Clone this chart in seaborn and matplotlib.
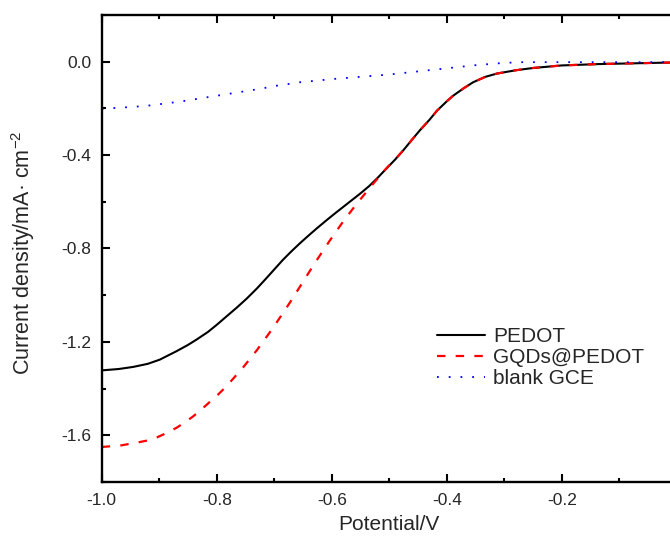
import matplotlib
matplotlib.use("Agg")
import matplotlib.pyplot as plt
from matplotlib.ticker import MultipleLocator, FuncFormatter
import seaborn as sns

# ---- data ----
pedot_x = [-1.000, -0.970, -0.945, -0.920, -0.899, -0.870, -0.850, -0.835, -0.815, -0.800,
           -0.783, -0.765, -0.748, -0.730, -0.715, -0.700, -0.685, -0.670, -0.655, -0.640,
           -0.626, -0.610, -0.595, -0.580, -0.565, -0.550, -0.535, -0.520, -0.505, -0.490,
           -0.475, -0.460, -0.446, -0.430, -0.417, -0.400, -0.389, -0.370, -0.354, -0.333,
           -0.313, -0.290, -0.278, -0.250, -0.200, -0.134, -0.075, 0.000]
pedot_y = [-1.322, -1.316, -1.307, -1.294, -1.276, -1.240, -1.213, -1.190, -1.157, -1.127,
           -1.091, -1.053, -1.015, -0.971, -0.931, -0.890, -0.849, -0.812, -0.777, -0.744,
           -0.714, -0.681, -0.651, -0.622, -0.593, -0.564, -0.533, -0.497, -0.458, -0.420,
           -0.378, -0.333, -0.292, -0.249, -0.210, -0.170, -0.146, -0.113, -0.088, -0.065,
           -0.051, -0.041, -0.036, -0.027, -0.016, -0.010, -0.007, -0.003]

gqds_x = [-1.000, -0.968, -0.936, -0.920, -0.904, -0.887, -0.870, -0.855, -0.841, -0.826,
          -0.812, -0.797, -0.783, -0.754, -0.730, -0.702, -0.672, -0.649, -0.629, -0.603,
          -0.580, -0.557, -0.530, -0.504, -0.490, -0.475, -0.460, -0.446, -0.430, -0.417,
          -0.400, -0.389, -0.370, -0.354, -0.333, -0.313, -0.290, -0.278, -0.250, -0.200,
          -0.134, -0.075, 0.000]
gqds_y = [-1.650, -1.644, -1.630, -1.622, -1.609, -1.590, -1.568, -1.544, -1.519, -1.488,
          -1.457, -1.424, -1.390, -1.309, -1.235, -1.140, -1.029, -0.939, -0.861, -0.765,
          -0.684, -0.610, -0.529, -0.454, -0.419, -0.378, -0.333, -0.292, -0.249, -0.210,
          -0.170, -0.146, -0.113, -0.088, -0.065, -0.051, -0.041, -0.036, -0.027, -0.016,
          -0.010, -0.007, -0.003]

blank_x = [-1.00, -0.925, -0.864, -0.803, -0.762, -0.722, -0.699, -0.655, -0.597, -0.500,
           -0.429, -0.350, -0.300, -0.267, -0.200, -0.100, 0.000]
blank_y = [-0.202, -0.190, -0.171, -0.147, -0.131, -0.115, -0.104, -0.088, -0.074, -0.055,
           -0.036, -0.015, -0.005, -0.002, -0.002, -0.002, -0.002]

series_labels = ["PEDOT", "GQDs@PEDOT", "blank GCE"]
x_label = "Potential/V"
y_label = "Current density/mA\u00b7 cm$^{-2}$"

# ---- style ----
sns.set_theme(style="ticks")
plt.rcParams["font.family"] = ["Liberation Sans", "DejaVu Sans"]
plt.rcParams["mathtext.default"] = "regular"
plt.rcParams["axes.unicode_minus"] = False

fig = plt.figure(figsize=(6.7, 5.42), dpi=100)
ax = fig.add_axes([101.7 / 670, 60 / 542, 575 / 670, 467 / 542])

sns.lineplot(x=pedot_x, y=pedot_y, ax=ax, color="black", linewidth=1.5,
             label=series_labels[0], estimator=None, sort=False)
sns.lineplot(x=gqds_x, y=gqds_y, ax=ax, color="#ff0000", linewidth=1.6,
             linestyle=(0, (3.8, 4.6)), label=series_labels[1], estimator=None, sort=False)
sns.lineplot(x=blank_x, y=blank_y, ax=ax, color="#0000ff", linewidth=1.3,
             linestyle=(0, (1.0, 5.5)), label=series_labels[2], estimator=None, sort=False)

ax.set_xlim(-1.0, 0.0)
ax.set_ylim(-1.8, 0.2)

ax.xaxis.set_major_locator(MultipleLocator(0.2))
ax.xaxis.set_minor_locator(MultipleLocator(0.1))
ax.yaxis.set_major_locator(MultipleLocator(0.4))
ax.yaxis.set_minor_locator(MultipleLocator(0.2))

def fmt_y(v, pos):
    s = f"{v:.1f}"
    return "0.0" if s == "-0.0" else s

def fmt_x(v, pos):
    # the 0.0 label lies beyond the cropped right edge in the reference
    if abs(v) < 1e-9:
        return ""
    return f"{v:.1f}"

ax.xaxis.set_major_formatter(FuncFormatter(fmt_x))
ax.yaxis.set_major_formatter(FuncFormatter(fmt_y))

ax.tick_params(axis="both", which="major", direction="in", length=6, width=1.5,
               labelsize=12.5, color="black")
ax.tick_params(axis="both", which="minor", direction="in", length=2.6, width=1.5,
               color="black")
ax.tick_params(axis="x", which="both", pad=8, top=True, labeltop=False)
ax.tick_params(axis="y", which="both", pad=7.5)

for side in ["left", "bottom", "top", "right"]:
    ax.spines[side].set_visible(True)
    ax.spines[side].set_linewidth(1.7)
    ax.spines[side].set_color("black")

ax.set_xlabel(x_label, fontsize=15, labelpad=5)
ax.set_ylabel(y_label, fontsize=15.5)
ax.yaxis.set_label_coords((37 - 101.7) / 575, 0.49)

ax.legend(loc="center left", bbox_to_anchor=((437 - 101.7) / 575, (482 - 357.5) / 467),
          frameon=False, fontsize=15, handlelength=2.3, handletextpad=0.38,
          labelspacing=0.1, borderpad=0, borderaxespad=0)

fig.savefig("out.png", dpi=100)
